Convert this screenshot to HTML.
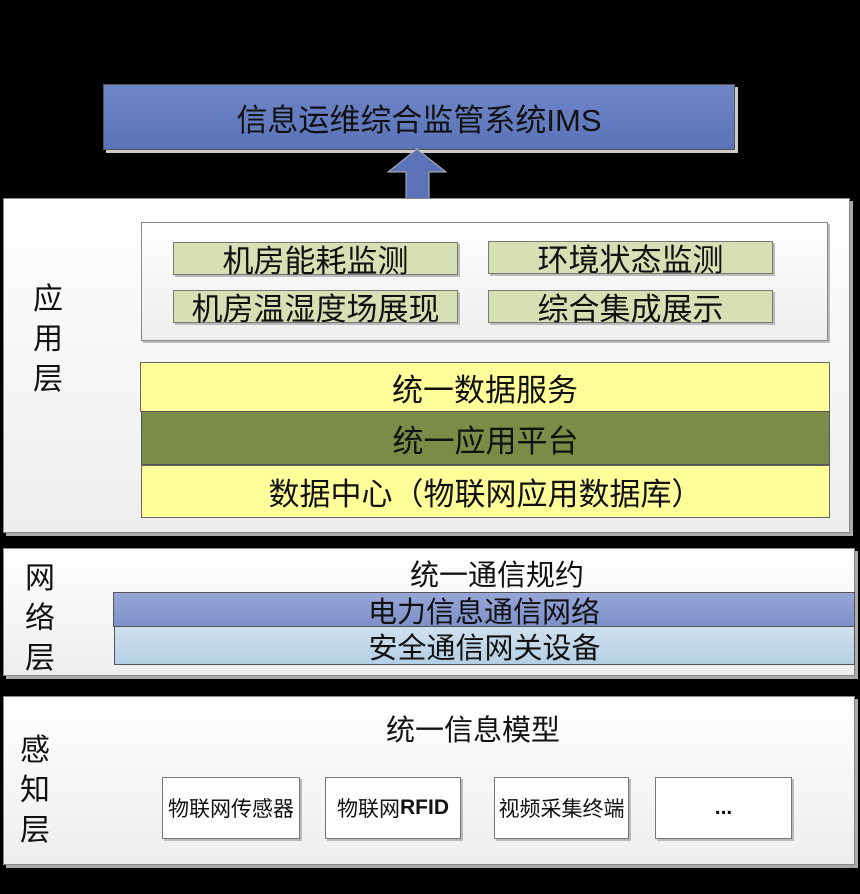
<!DOCTYPE html>
<html><head><meta charset="utf-8"><style>
body{margin:0;width:860px;height:894px;background:#000;position:relative;overflow:hidden;font-family:"Liberation Sans","Noto Sans CJK SC",sans-serif;color:#111}
div{position:absolute;box-sizing:border-box}
.c{display:flex;align-items:center;justify-content:center;white-space:nowrap}
.panel{background:linear-gradient(#fff,#eee);border:1px solid #888;box-shadow:3px 3px 0 #aaa}
.g{background:#d7e0b4;border:1px solid #777;box-shadow:2px 2px 0 #bbb;font-size:31px}
.y{background:#ffff99;border:1px solid #666;font-size:31px}
.lbl{font-size:30px;line-height:40px;width:40px;text-align:center}
.s{background:#fff;border:1px solid #777;box-shadow:2px 2px 0 #bbb;font-size:21px}
</style></head><body>
<div class="c" style="left:103px;top:84px;width:632px;height:66px;background:linear-gradient(#6f86c8,#5a73b8);border:1px solid #555;box-shadow:3px 3px 0 #ccc;font-size:31px">信息运维综合监管系统IMS</div>
<svg style="position:absolute;left:385px;top:148px" width="64" height="52"><polygon points="32,1 61,24 44,24 44,51 21,51 21,24 3,24" fill="#5b72b8" stroke="#bbb" stroke-width="1"/></svg>
<div class="panel" style="left:3px;top:198px;width:847px;height:335px"></div>
<div class="lbl" style="left:28px;top:280px">应<br>用<br>层</div>
<div class="panel" style="left:141px;top:222px;width:687px;height:119px;box-shadow:2px 2px 0 #bbb"></div>
<div class="c g" style="left:173px;top:242px;width:285px;height:33px">机房能耗监测</div>
<div class="c g" style="left:488px;top:241px;width:285px;height:33px">环境状态监测</div>
<div class="c g" style="left:173px;top:290px;width:285px;height:33px">机房温湿度场展现</div>
<div class="c g" style="left:488px;top:290px;width:285px;height:33px">综合集成展示</div>
<div class="c y" style="left:140px;top:362px;width:690px;height:50px">统一数据服务</div>
<div class="c" style="left:141px;top:411px;width:689px;height:54px;background:#7a8c46;border:1px solid #555;font-size:31px">统一应用平台</div>
<div class="c y" style="left:141px;top:465px;width:689px;height:53px">数据中心（物联网应用数据库）</div>
<div class="panel" style="left:3px;top:548px;width:852px;height:128px"></div>
<div class="lbl" style="left:20px;top:559px">网<br>络<br>层</div>
<div class="c" style="left:300px;top:555px;width:394px;height:36px;font-size:29px">统一通信规约</div>
<div class="c" style="left:113px;top:592px;width:742px;height:35px;background:linear-gradient(#97a6d6,#7d90c8);border:1px solid #555;font-size:29px">电力信息通信网络</div>
<div class="c" style="left:114px;top:626px;width:741px;height:39px;background:linear-gradient(#cfe0ee,#b4cfe4);border:1px solid #555;font-size:29px">安全通信网关设备</div>
<div class="panel" style="left:3px;top:696px;width:852px;height:169px"></div>
<div class="lbl" style="left:15px;top:731px">感<br>知<br>层</div>
<div class="c" style="left:300px;top:709px;width:346px;height:38px;font-size:29px">统一信息模型</div>
<div class="c s" style="left:162px;top:777px;width:138px;height:62px">物联网传感器</div>
<div class="c s" style="left:325px;top:777px;width:136px;height:62px">物联网<b>RFID</b></div>
<div class="c s" style="left:494px;top:777px;width:135px;height:62px">视频采集终端</div>
<div class="c s" style="left:655px;top:777px;width:137px;height:62px"><b>...</b></div>
</body></html>
